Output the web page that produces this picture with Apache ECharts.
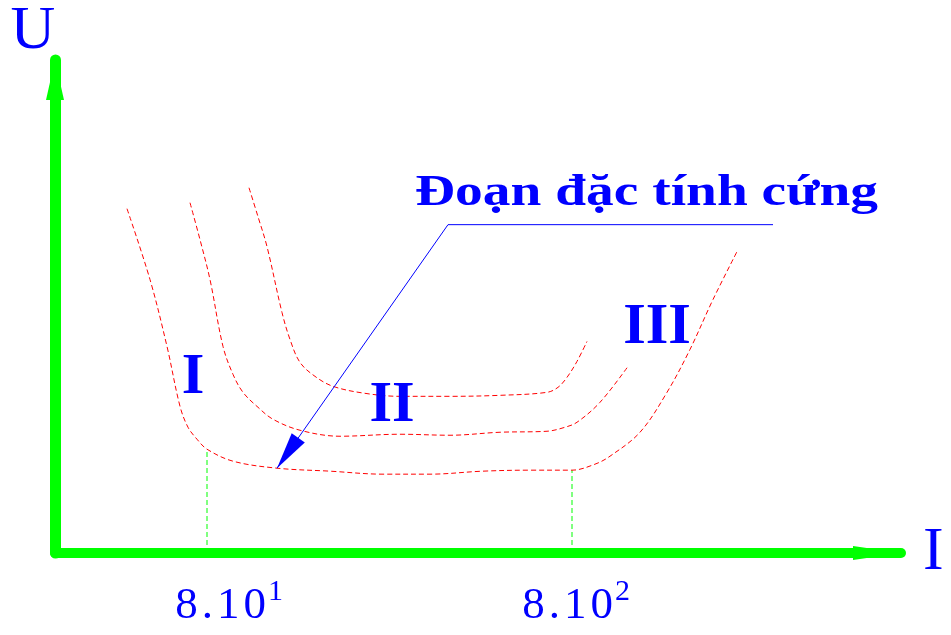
<!DOCTYPE html>
<html><head><meta charset="utf-8">
<script src="https://cdn.jsdelivr.net/npm/echarts@6/dist/echarts.min.js"></script>
<style>html,body{margin:0;padding:0;background:#fff}#c{width:951px;height:635px}</style>
</head><body><div id="c"></div>
<script>
// ---- data (axis units, origin at the axes corner) ----
const curve1X = [72, 95, 112, 125, 133, 142, 152, 178, 222, 275, 328, 375, 428, 475, 517, 540, 555, 585, 612, 635, 658, 682];
const curve1Y = [345, 274, 207, 147, 126, 114, 104, 92, 85, 82, 79, 79, 82, 83, 83, 89, 97, 121, 161, 204, 254, 302];
const curve2X = [135, 145, 155, 168, 178, 188, 203, 218, 245, 285, 345, 395, 445, 492, 510, 522, 545, 573];
const curve2Y = [351, 314, 274, 207, 179, 161, 146, 134, 123, 117, 119, 118, 121, 122, 126, 131, 151, 187];
const curve3X = [194, 203, 212, 227, 235, 245, 260, 278, 310, 345, 395, 445, 492, 503, 512, 522, 532];
const curve3Y = [366, 337, 307, 241, 214, 191, 177, 167, 160, 157, 157, 158, 161, 166, 176, 192, 212];
const regionNames = ['I', 'II', 'III'];
const regionX = [138, 337, 602];
const regionY = [175, 147, 225];
const tickValues = [152, 517];          // 8.10^1 , 8.10^2
const tickMantissa = ['8.10', '8.10'];
const tickExponent = ['1', '2'];
const guideTop = [103, 83];             // where dashed guides meet curve I
const annotationText = 'Đoạn đặc tính cứng';
const annotationX = [718, 393, 222];
const annotationY = [329, 329, 85];
const axisNameX = 'I', axisNameY = 'U';

const BLUE = '#0000ff', GREEN = '#00ff00', RED = '#ff0000';
const SERIF = '"Liberation Serif","DejaVu Serif",serif';
const zip = (xs, ys) => xs.map((x, i) => [x, ys[i]]);

const chart = echarts.init(document.getElementById('c'), null, {renderer: 'canvas'});

const curveSeries = [[curve1X, curve1Y], [curve2X, curve2Y], [curve3X, curve3Y]].map(([xs, ys]) => ({
  type: 'line', data: zip(xs, ys), smooth: 0.35, symbol: 'none', silent: true,
  lineStyle: {color: RED, width: 1, type: [5, 3]}, z: 3
}));

const guideSeries = tickValues.map((v, i) => ({
  type: 'line', data: [[v, 0], [v, guideTop[i]]], symbol: 'none', silent: true,
  lineStyle: {color: GREEN, width: 1, type: [5, 3]}, z: 2
}));

const ARROW_LEN = 37, ARROW_HALF = 8;
function renderAnnotation(params, api) {
  const n = annotationX.length;
  const pts = [];
  for (let k = 0; k < n; k++) pts.push(api.coord([api.value(2 * k), api.value(2 * k + 1)]));
  const tip = pts[n - 1], from = pts[n - 2];
  const dx = tip[0] - from[0], dy = tip[1] - from[1];
  const L = Math.hypot(dx, dy), ux = dx / L, uy = dy / L;
  const bx = tip[0] - ux * ARROW_LEN, by = tip[1] - uy * ARROW_LEN;
  const nx = -uy, ny = ux;
  return {
    type: 'group',
    children: [
      {type: 'polyline', shape: {points: pts}, style: {stroke: BLUE, lineWidth: 1, fill: null}},
      {type: 'polygon', shape: {points: [tip, [bx + nx * ARROW_HALF, by + ny * ARROW_HALF], [bx - nx * ARROW_HALF, by - ny * ARROW_HALF]]},
        style: {fill: BLUE}}
    ]
  };
}
const annotationValue = [];
annotationX.forEach((x, i) => { annotationValue.push(x, annotationY[i]); });

const option = {
  animation: false,
  grid: {left: 55, right: 50, top: 60, bottom: 81, containLabel: false},
  xAxis: {
    type: 'value', min: 0, max: 846,
    splitLine: {show: false},
    axisTick: {show: false},
    axisLine: {show: true, onZero: false,
      lineStyle: {color: GREEN, width: 10, cap: 'round'},
      symbol: ['none', 'triangle'], symbolSize: [14, 48], symbolOffset: [0, -24]},
    axisLabel: {
      show: true, customValues: tickValues, margin: 30,
      formatter: function (val) {
        const i = tickValues.indexOf(val);
        const chars = tickMantissa[i].split('');
        return chars.map((c, k) => '{' + (k === 0 ? 'f' + i : 'd') + '|' + c + '}').join('') + '{s|' + tickExponent[i] + '}';
      },
      rich: {
        f0: {fontSize: 45, fontFamily: SERIF, color: BLUE, lineHeight: 46, padding: [0, 2, 0, 44]},
        f1: {fontSize: 45, fontFamily: SERIF, color: BLUE, lineHeight: 46, padding: [0, 2, 0, 8]},
        d: {fontSize: 45, fontFamily: SERIF, color: BLUE, lineHeight: 46, padding: [0, 2, 0, 2]},
        s: {fontSize: 30, fontFamily: SERIF, color: BLUE, lineHeight: 30, padding: [0, 0, 28, 0]}
      }
    },
    name: axisNameX, nameLocation: 'end', nameGap: 22,
    nameTextStyle: {fontSize: 62, fontFamily: SERIF, color: BLUE, verticalAlign: 'middle', padding: [14, 0, 0, 0]}
  },
  yAxis: {
    type: 'value', min: 0, max: 494,
    splitLine: {show: false},
    axisTick: {show: false},
    axisLabel: {show: false},
    axisLine: {show: true, onZero: false,
      lineStyle: {color: GREEN, width: 11, cap: 'round'},
      symbol: ['none', 'triangle'], symbolSize: [18, 40], symbolOffset: [0, -20]},
    name: axisNameY, nameLocation: 'end', nameGap: -2,
    nameTextStyle: {fontSize: 62, fontFamily: SERIF, color: BLUE, lineHeight: 60, padding: [0, 44, 0, 0]}
  },
  series: [
    ...curveSeries,
    ...guideSeries,
    {
      type: 'scatter', symbolSize: 1, itemStyle: {color: 'rgba(0,0,0,0)', opacity: 1}, silent: true,
      data: regionNames.map((n, i) => ({name: n, value: [regionX[i], regionY[i]]})),
      label: {show: true, position: 'inside', formatter: '{b}', color: BLUE, opacity: 1,
        fontSize: 58, fontWeight: 'bold', fontFamily: SERIF},
      z: 5
    },
    {
      type: 'custom', coordinateSystem: 'cartesian2d', silent: true, z: 6,
      encode: {x: [0, 2, 4], y: [1, 3, 5]},
      data: [annotationValue],
      renderItem: renderAnnotation
    }
  ],
  graphic: [{
    type: 'text', x: 415, y: 194, scaleX: 1.26,
    style: {text: annotationText, fill: BLUE, font: 'bold 44px ' + SERIF, verticalAlign: 'middle', align: 'left'}
  }]
};
chart.setOption(option);
</script></body></html>
